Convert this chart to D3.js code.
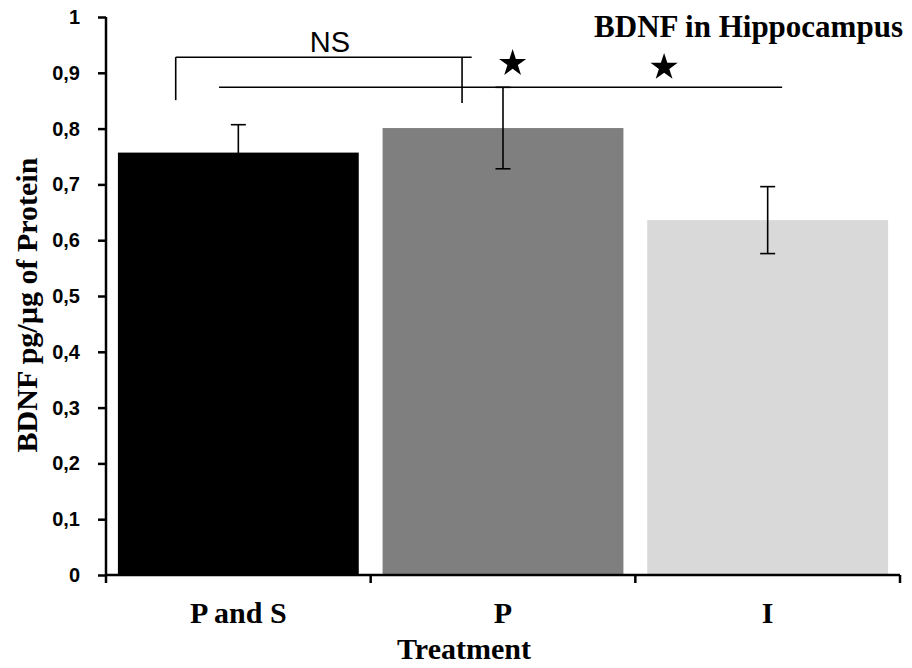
<!DOCTYPE html>
<html>
<head>
<meta charset="utf-8">
<script src="https://cdn.jsdelivr.net/npm/d3@7"></script>
<style>
  html, body { margin: 0; padding: 0; background: #fff; }
  svg { display: block; }
</style>
</head>
<body>
<svg id="chart" width="912" height="668"></svg>
<script>
// ---- data ----
const categories = ["P and S", "P", "I"];
const means = [0.757, 0.801, 0.636];
const errors = [0.05, 0.073, 0.06];
const barColors = ["#000000", "#7f7f7f", "#d9d9d9"];
const yTicks = [0, 0.1, 0.2, 0.3, 0.4, 0.5, 0.6, 0.7, 0.8, 0.9, 1];
const yTickLabels = ["0", "0,1", "0,2", "0,3", "0,4", "0,5", "0,6", "0,7", "0,8", "0,9", "1"];
const title = "BDNF in Hippocampus";
const xTitle = "Treatment";
const yTitle = "BDNF pg/µg of Protein";
// significance annotations (category + fraction within band, value level)
const nsBracket = { from: ["P and S", 0.24], to: ["P", 0.33], level: 0.928, legLeft: 0.851, legRight: 0.846, overhang: 0.04, label: "NS" };
const starLine = { from: ["P and S", 0.42], to: ["I", 0.56], level: 0.874 };
const stars = [{ cat: "P", frac: 0.54, level: 0.917 }, { cat: "I", frac: 0.07, level: 0.91 }];

// ---- layout ----
const svg = d3.select("#chart");
const x = d3.scaleBand().domain(categories).range([106, 900]).paddingInner(0.09).paddingOuter(0.045);
const y = d3.scaleLinear().domain([0, 1]).range([575, 17]);
const px = (c, f) => x(c) + f * x.bandwidth();

// bars
svg.selectAll("rect.bar").data(categories).join("rect")
  .attr("class", "bar")
  .attr("x", d => x(d))
  .attr("width", x.bandwidth())
  .attr("y", (d, i) => y(means[i]))
  .attr("height", (d, i) => y(0) - y(means[i]))
  .attr("fill", (d, i) => barColors[i]);

// error bars
const eb = svg.append("g").attr("stroke", "#000").attr("stroke-width", 1.6);
categories.forEach((c, i) => {
  const cx = x(c) + x.bandwidth() / 2;
  const hi = y(means[i] + errors[i]), lo = y(means[i] - errors[i]);
  eb.append("line").attr("x1", cx).attr("x2", cx).attr("y1", hi).attr("y2", lo);
  eb.append("line").attr("x1", cx - 7.5).attr("x2", cx + 7.5).attr("y1", hi).attr("y2", hi);
  eb.append("line").attr("x1", cx - 7.5).attr("x2", cx + 7.5).attr("y1", lo).attr("y2", lo);
});

// y axis
const yAxis = d3.axisLeft(y).tickValues(yTicks).tickSize(8).tickPadding(18)
  .tickFormat((d, i) => yTickLabels[i]);
const gy = svg.append("g").attr("transform", "translate(106,0)").call(yAxis);
gy.select(".domain").attr("stroke", "#000").attr("stroke-width", 2.5).attr("d", `M0,${y(1)}V${y(0)}`);
gy.selectAll(".tick line").attr("stroke", "#000").attr("stroke-width", 2.5);
gy.selectAll(".tick text").attr("font-family", "'Liberation Sans', Arial, sans-serif")
  .attr("font-weight", "bold").attr("font-size", 20).attr("fill", "#000");

// x axis with ticks at band boundaries
const step = x.step();
const bounds = categories.map(c => x(c) - step * x.paddingInner() / 2);
bounds[0] = x.range()[0];
bounds.push(x.range()[1]);
const gx = svg.append("g");
gx.append("line").attr("x1", x.range()[0]).attr("x2", x.range()[1]).attr("y1", y(0)).attr("y2", y(0))
  .attr("stroke", "#000").attr("stroke-width", 2.5);
gx.selectAll("line.tk").data(bounds).join("line").attr("class", "tk")
  .attr("x1", d => d).attr("x2", d => d).attr("y1", y(0)).attr("y2", y(0) + 8)
  .attr("stroke", "#000").attr("stroke-width", 2.5);
gx.selectAll("text.cat").data(categories).join("text").attr("class", "cat")
  .attr("x", d => x(d) + x.bandwidth() / 2).attr("y", 623)
  .attr("text-anchor", "middle")
  .attr("font-family", "'Liberation Serif', 'Times New Roman', serif")
  .attr("font-weight", "bold").attr("font-size", 30).attr("fill", "#000")
  .text(d => d);

// axis titles
svg.append("text").attr("x", 464).attr("y", 659).attr("text-anchor", "middle")
  .attr("font-family", "'Liberation Serif', 'Times New Roman', serif")
  .attr("font-weight", "bold").attr("font-size", 30).text(xTitle);
svg.append("text").attr("transform", "translate(37,305) rotate(-90)").attr("text-anchor", "middle")
  .attr("font-family", "'Liberation Serif', 'Times New Roman', serif")
  .attr("font-weight", "bold").attr("font-size", 30).text(yTitle);

// title
svg.append("text").attr("x", 903).attr("y", 37).attr("text-anchor", "end")
  .attr("font-family", "'Liberation Serif', 'Times New Roman', serif")
  .attr("font-weight", "bold").attr("font-size", 31).text(title);

// significance annotations
const ann = svg.append("g").attr("stroke", "#000").attr("stroke-width", 1.6).attr("fill", "none");
const nx1 = px(...nsBracket.from), nx2 = px(...nsBracket.to);
ann.append("line").attr("x1", nx1).attr("x2", nx2 + nsBracket.overhang * x.bandwidth())
  .attr("y1", y(nsBracket.level)).attr("y2", y(nsBracket.level));
ann.append("line").attr("x1", nx1).attr("x2", nx1).attr("y1", y(nsBracket.level)).attr("y2", y(nsBracket.legLeft));
ann.append("line").attr("x1", nx2).attr("x2", nx2).attr("y1", y(nsBracket.level)).attr("y2", y(nsBracket.legRight));
ann.append("line").attr("x1", px(...starLine.from)).attr("x2", px(...starLine.to))
  .attr("y1", y(starLine.level)).attr("y2", y(starLine.level));

svg.append("text").attr("x", (nx1 + nx2) / 2 + 11).attr("y", 52).attr("text-anchor", "middle")
  .attr("font-family", "'Liberation Sans', Arial, sans-serif").attr("font-size", 29).text(nsBracket.label);

const starPath = d3.symbol().type(d3.symbolStar).size(230);
svg.selectAll("path.star").data(stars).join("path").attr("class", "star")
  .attr("d", starPath)
  .attr("transform", d => `translate(${px(d.cat, d.frac)},${y(d.level)})`)
  .attr("fill", "#000");
</script>
</body>
</html>
